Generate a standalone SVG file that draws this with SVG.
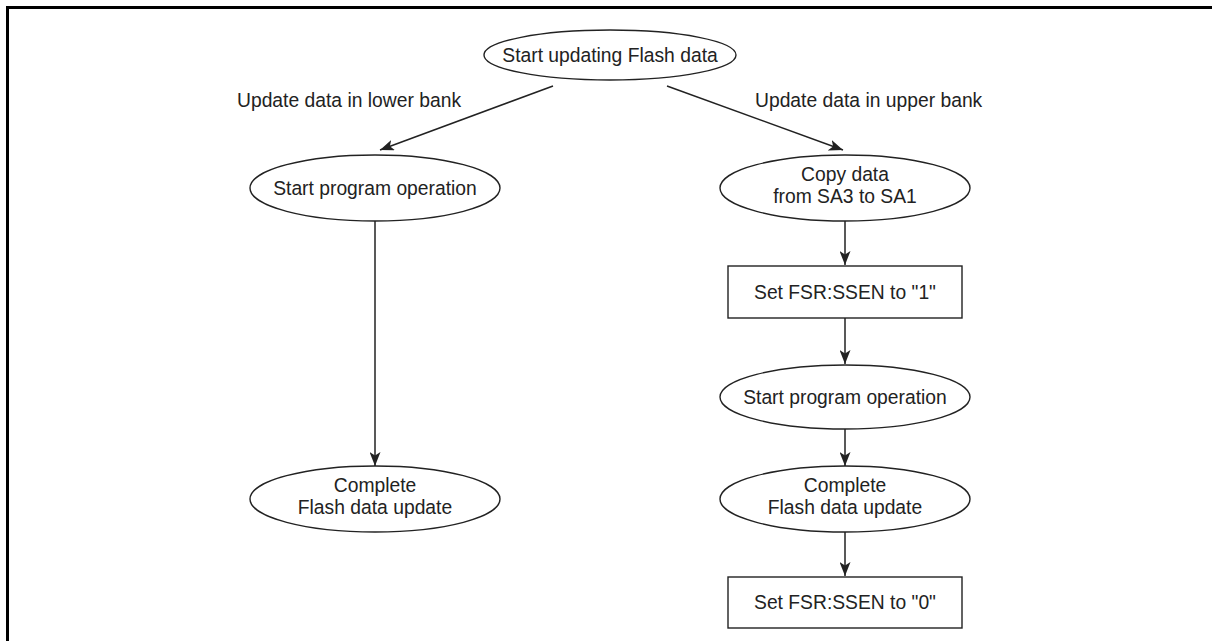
<svg xmlns="http://www.w3.org/2000/svg" width="1212" height="641" viewBox="0 0 1212 641">
<style>
.n{fill:#fff;stroke:#222;stroke-width:1.4}
.t{font-family:"Liberation Sans",Arial,sans-serif;font-size:19.3px;fill:#222;text-anchor:middle}
.l{font-family:"Liberation Sans",Arial,sans-serif;font-size:19.3px;fill:#222}
.c{stroke:#222;stroke-width:1.5;fill:none;marker-end:url(#ah)}
</style>
<defs>
<marker id="ah" viewBox="0 0 14 11" refX="14" refY="5.5" markerWidth="14" markerHeight="11" markerUnits="userSpaceOnUse" orient="auto">
<path d="M0,0 L14,5.5 L0,11 L3.5,5.5 Z" fill="#222"/>
</marker>
</defs>
<rect width="1212" height="641" fill="#fff"/>
<path d="M7.5,641 V7.5 H1212" fill="none" stroke="#000" stroke-width="3"/>
<g id="connectors">
<line class="c" x1="553" y1="86" x2="380" y2="150"/>
<line class="c" x1="667" y1="86" x2="843" y2="150"/>
<line class="c" x1="375" y1="221" x2="375" y2="466"/>
<line class="c" x1="845" y1="221" x2="845" y2="265"/>
<line class="c" x1="845" y1="318" x2="845" y2="364"/>
<line class="c" x1="845" y1="429" x2="845" y2="466"/>
<line class="c" x1="845" y1="532" x2="845" y2="576"/>
</g>
<g id="labels">
<text class="l" x="237" y="107">Update data in lower bank</text>
<text class="l" x="755" y="107">Update data in upper bank</text>
</g>
<g id="start">
<ellipse class="n" cx="610" cy="55" rx="126" ry="25"/>
<text class="t" x="610" y="62">Start updating Flash data</text>
</g>
<g id="lower-program">
<ellipse class="n" cx="375" cy="188" rx="125" ry="33"/>
<text class="t" x="375" y="195">Start program operation</text>
</g>
<g id="lower-complete">
<ellipse class="n" cx="375" cy="499" rx="125" ry="33"/>
<text class="t" x="375" y="492">Complete</text>
<text class="t" x="375" y="514">Flash data update</text>
</g>
<g id="copy">
<ellipse class="n" cx="845" cy="188" rx="125" ry="33"/>
<text class="t" x="845" y="181">Copy data</text>
<text class="t" x="845" y="203">from SA3 to SA1</text>
</g>
<g id="set1">
<rect class="n" x="728" y="266" width="234" height="52"/>
<text class="t" x="845" y="299">Set FSR:SSEN to "1"</text>
</g>
<g id="upper-program">
<ellipse class="n" cx="845" cy="397" rx="125" ry="32"/>
<text class="t" x="845" y="404">Start program operation</text>
</g>
<g id="upper-complete">
<ellipse class="n" cx="845" cy="499" rx="125" ry="33"/>
<text class="t" x="845" y="492">Complete</text>
<text class="t" x="845" y="514">Flash data update</text>
</g>
<g id="set0">
<rect class="n" x="728" y="577" width="234" height="51"/>
<text class="t" x="845" y="609">Set FSR:SSEN to "0"</text>
</g>
</svg>
